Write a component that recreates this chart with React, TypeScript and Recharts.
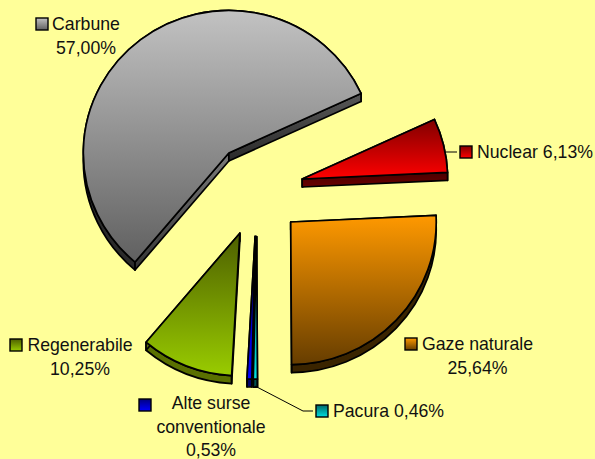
import { PieChart, Pie, Cell } from 'recharts';

// Clockwise order in the picture is reversed here because recharts goes counter-clockwise
const categories = ['Carbune', 'Regenerabile', 'Alte surse conventionale', 'Pacura', 'Gaze naturale', 'Nuclear'];
const shares = [57.0, 10.25, 0.53, 0.46, 25.64, 6.13];
const labelLines = [
  ['Carbune', '57,00%'],
  ['Regenerabile', '10,25%'],
  ['Alte surse', 'conventionale', '0,53%'],
  ['Pacura 0,46%'],
  ['Gaze naturale', '25,64%'],
  ['Nuclear 6,13%'],
];

const topColors = ['#C2C2C2', '#4D5F00', '#000080', '#006868', '#FF9900', '#800000'];
const bottomColors = ['#606060', '#99CC00', '#0000FF', '#00E0E0', '#663D00', '#FF0000'];
const arcWallColors = ['#2A2A2A', '#5A7000', '#000070', '#005050', '#3A2400', '#4A0000'];
// side walls fade from top to bottom of their own box
const startWallTop = ['#585858', '#5A7000', '#000070', '#005050', '#3A2400', '#4A0000'];
const startWallBottom = ['#2A2A2A', '#5A7000', '#000070', '#005050', '#3A2400', '#6A0000'];
const endWallTop = ['#7A7A7A', '#5A7000', '#000070', '#005050', '#3A2400', '#4A0000'];
const endWallBottom = ['#333333', '#5A7000', '#000070', '#005050', '#3A2400', '#4A0000'];

const labelCenters = [86, 80, 211, 388.5, 477.5, 535];
const labelBaselines = [30, 351, 409, 417, 350, 158];
const keyBoxes = [
  [36, 18],
  [10, 339],
  [139, 399],
  [316, 405],
  [405, 338],
  [460, 146],
];
const leaders: Record<number, string> = {
  3: 'M255 386 L303 411 L313 411',
  5: 'M446 152 L457 152',
};

const EXPLODE = 46.5;
const DEPTH = 8;
const Y_SQUASH = 0.98;
const RAD = Math.PI / 180;

const chartData = categories.map((name, i) => ({ name, value: shares[i] }));

const SliceShape = (props: any) => {
  const { cx, cy, outerRadius: rx, startAngle, endAngle, index } = props;
  const ry = rx * Y_SQUASH;
  const mid = (startAngle + endAngle) / 2;
  const ax = cx + EXPLODE * Math.cos(mid * RAD);
  const ay = cy - EXPLODE * Math.sin(mid * RAD);
  const x1 = ax + rx * Math.cos(startAngle * RAD);
  const y1 = ay - ry * Math.sin(startAngle * RAD);
  const x2 = ax + rx * Math.cos(endAngle * RAD);
  const y2 = ay - ry * Math.sin(endAngle * RAD);
  const large = endAngle - startAngle > 180 ? 1 : 0;

  const face = `M${ax} ${ay} L${x1} ${y1} A${rx} ${ry} 0 ${large} 0 ${x2} ${y2} Z`;
  const arcWall = `M${x1} ${y1} A${rx} ${ry} 0 ${large} 0 ${x2} ${y2} L${x2} ${y2 + DEPTH} A${rx} ${ry} 0 ${large} 1 ${x1} ${y1 + DEPTH} Z`;
  const wallA = `M${ax} ${ay} L${x1} ${y1} L${x1} ${y1 + DEPTH} L${ax} ${ay + DEPTH} Z`;
  const wallB = `M${ax} ${ay} L${x2} ${y2} L${x2} ${y2 + DEPTH} L${ax} ${ay + DEPTH} Z`;

  return (
    <g stroke="#000" strokeWidth={1.7} strokeLinejoin="round">
      <path d={arcWall} fill={arcWallColors[index]} />
      <path d={wallB} fill={`url(#endWall${index})`} />
      <path d={wallA} fill={`url(#startWall${index})`} />
      <path d={face} fill={`url(#grad${index})`} />
    </g>
  );
};

const SliceLabel = (props: any) => {
  const { index } = props;
  const lines = labelLines[index];
  const [kx, ky] = keyBoxes[index];
  return (
    <g>
      {leaders[index] && <path d={leaders[index]} fill="none" stroke="#000" strokeWidth={1} />}
      <rect x={kx} y={ky} width={12} height={12} fill={`url(#grad${index})`} stroke="#000" strokeWidth={1.4} />
      <text fontFamily="Liberation Sans" fontSize={17.7} fill="#111" textAnchor="middle">
        {lines.map((line, i) => (
          <tspan key={i} x={labelCenters[index]} y={labelBaselines[index] + i * 23.5}>
            {line}
          </tspan>
        ))}
      </text>
    </g>
  );
};

const VerticalFade = ({ id, top, bottom }: { id: string; top: string; bottom: string }) => (
  <linearGradient id={id} x1="0" y1="0" x2="0" y2="1">
    <stop offset="0%" stopColor={top} />
    <stop offset="100%" stopColor={bottom} />
  </linearGradient>
);

export default function App() {
  return (
    <div style={{ position: 'absolute', left: 0, top: 0, width: 595, height: 459, background: '#FFFF99', overflow: 'hidden' }}>
      <PieChart width={595} height={459} margin={{ top: 0, right: 0, bottom: 0, left: 0 }}>
        <defs>
          {categories.map((_, i) => (
            <g key={i}>
              {VerticalFade({ id: `grad${i}`, top: topColors[i], bottom: bottomColors[i] })}
              {VerticalFade({ id: `startWall${i}`, top: startWallTop[i], bottom: startWallBottom[i] })}
              {VerticalFade({ id: `endWall${i}`, top: endWallTop[i], bottom: endWallBottom[i] })}
            </g>
          ))}
        </defs>
        <Pie
          data={chartData}
          dataKey="value"
          nameKey="name"
          cx={257}
          cy={190}
          innerRadius={0}
          outerRadius={145.5}
          startAngle={24.7}
          endAngle={384.7}
          shape={SliceShape}
          label={SliceLabel}
          labelLine={false}
          isAnimationActive={false}
        >
          {chartData.map((d, i) => (
            <Cell key={d.name} fill={bottomColors[i]} />
          ))}
        </Pie>
      </PieChart>
    </div>
  );
}
